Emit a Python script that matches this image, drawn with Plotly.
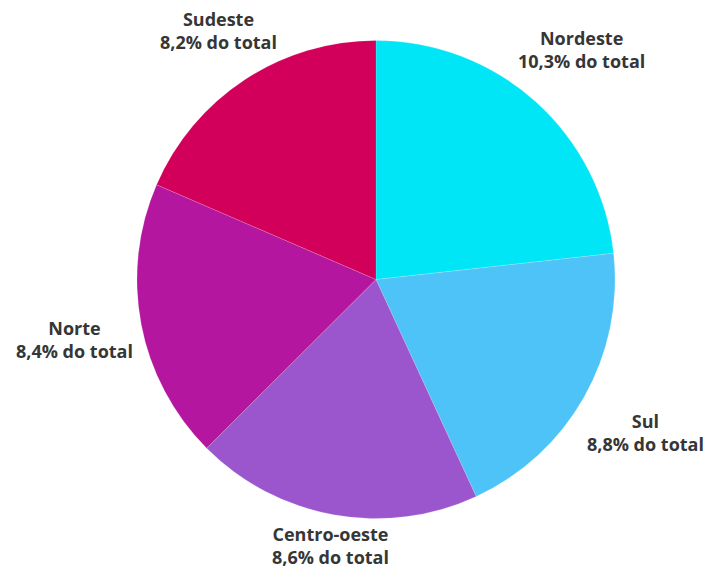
import plotly.graph_objects as go

# Regional shares (% of total)
regions = ["Nordeste", "Sul", "Centro-oeste", "Norte", "Sudeste"]
shares = [10.3, 8.8, 8.6, 8.4, 8.2]
colors = ["#00E6F6", "#4DC3F8", "#9B56CD", "#B4169F", "#D2005A"]

W, H = 708, 571

fig = go.Figure(
    go.Pie(
        labels=regions,
        values=shares,
        sort=False,
        direction="clockwise",
        rotation=0,
        textinfo="none",
        hoverinfo="label+value",
        marker=dict(colors=colors, line=dict(color="rgba(255,255,255,0.3)", width=0.5)),
        domain=dict(x=[137 / W, 615 / W], y=[(H - 519) / H, (H - 40) / H]),
        showlegend=False,
    )
)

# Label anchor positions (pixel centres of each two-line label)
label_pos = {
    "Sudeste": (218, 30),
    "Nordeste": (581, 50),
    "Norte": (74, 339),
    "Sul": (645, 432),
    "Centro-oeste": (330, 545),
}


def fmt(v):
    return f"{v:.1f}".replace(".", ",")


for name, val in zip(regions, shares):
    px, py = label_pos[name]
    fig.add_annotation(
        x=px / W,
        y=1 - py / H,
        xref="paper",
        yref="paper",
        text=f"{name}<br>{fmt(val)}% do total",
        showarrow=False,
        xanchor="center",
        yanchor="middle",
        align="center",
        font=dict(family="Open Sans", size=18, color="#363636", weight="bold"),
    )

fig.update_layout(
    width=W,
    height=H,
    margin=dict(l=0, r=0, t=0, b=0),
    paper_bgcolor="white",
    plot_bgcolor="white",
)

fig.write_html("out.html")
